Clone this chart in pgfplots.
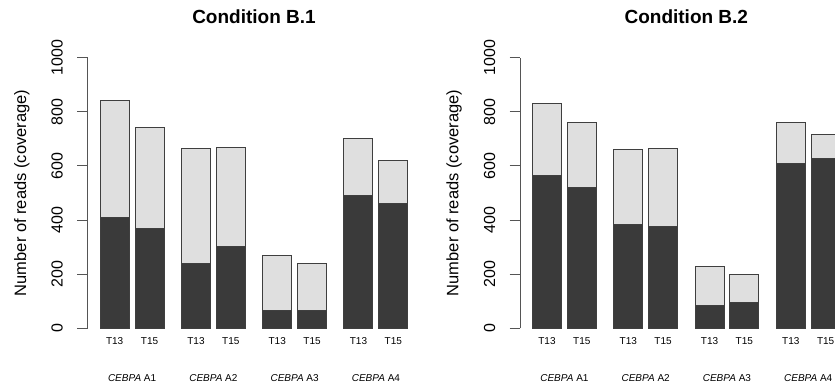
\documentclass[border=0pt]{standalone}
\usepackage{fontspec}
\setmainfont{Liberation Sans}
\usepackage{pgfplots}
\pgfplotsset{compat=1.18}
\definecolor{darkbar}{HTML}{3A3A3A}
\definecolor{lightbar}{HTML}{DFDFDF}
\definecolor{edge}{HTML}{3F3F3F}
\definecolor{axisgray}{HTML}{555555}
\pgfplotsset{
  panel/.style={
    scale only axis, width=332.6pt, height=270.6pt,
    xmin=-0.93, xmax=10.53, ymin=0, ymax=1000,
    axis y line*=left, axis x line*=bottom,
    x axis line style={draw=none},
    y axis line style={draw=axisgray, line width=0.9pt},
    tick align=outside, major tick length=10.3pt,
    ytick={0,200,400,600,800,1000},
    ytick style={draw=axisgray, line width=0.9pt},
    /pgf/number format/assume math mode=true,
    /pgf/number format/1000 sep={},
    yticklabel style={font=\fontsize{16}{19}\selectfont, xshift=-14.7pt, rotate=90, anchor=base},
    xtick style={draw=none},
    xtick={0,1.2,2.8,4.0,5.6,6.8,8.4,9.6},
    xticklabels={T13,T15,T13,T15,T13,T15,T13,T15},
    xticklabel style={font=\fontsize{10}{12}\selectfont, anchor=base, yshift=-5.7pt},
    extra x ticks={0.6,3.4,6.2,9.0},
    extra x tick labels={\textit{CEBPA} A1,\textit{CEBPA} A2,\textit{CEBPA} A3,\textit{CEBPA} A4},
    extra x tick style={tick style={draw=none}, tick label style={font=\fontsize{10.6}{12}\selectfont, anchor=base, yshift=-37pt}},
    every axis title shift=0pt,
    title style={at={(axis description cs:0.5,1.1271)}, anchor=base, font=\fontsize{19}{22}\selectfont\bfseries},
    ylabel={Number of reads (coverage)},
    ylabel style={at={(axis description cs:-0.1855,0.5)}, anchor=base, font=\fontsize{16.5}{19}\selectfont},
  },
  lightb/.style={ybar, bar width=1, bar shift=0pt, fill=lightbar, draw=edge, line width=1pt},
  darkb/.style={ybar, bar width=1, bar shift=0pt, fill=darkbar, draw=edge, line width=1pt},
}
\begin{document}
\begin{tikzpicture}
\useasboundingbox (0,0) rectangle (835pt,386pt);
\begin{axis}[panel, at={(87.7pt,57.7pt)}, anchor=south west, title={Condition B.1}]
\addplot[lightb] coordinates {(0,841) (1.2,743) (2.8,664) (4.0,669) (5.6,270) (6.8,241) (8.4,702) (9.6,620)};
\addplot[darkb] coordinates {(0,408) (1.2,370) (2.8,239) (4.0,302) (5.6,67) (6.8,65) (8.4,489) (9.6,461)};
\end{axis}
\begin{axis}[panel, at={(520pt,57.7pt)}, anchor=south west, title={Condition B.2}]
\addplot[lightb] coordinates {(0,831) (1.2,760) (2.8,659) (4.0,664) (5.6,230) (6.8,198) (8.4,759) (9.6,716)};
\addplot[darkb] coordinates {(0,563) (1.2,521) (2.8,383) (4.0,378) (5.6,86) (6.8,94) (8.4,610) (9.6,626)};
\end{axis}
\end{tikzpicture}
\end{document}
